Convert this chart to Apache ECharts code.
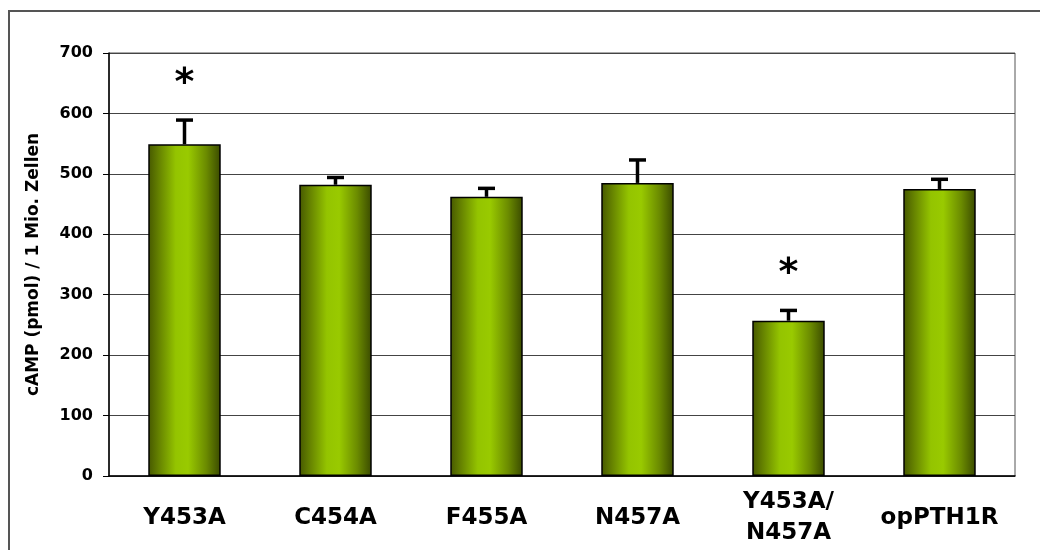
<!DOCTYPE html>
<html>
<head>
<meta charset="utf-8">
<script src="https://cdn.jsdelivr.net/npm/echarts@6/dist/echarts.min.js"></script>
<style>
  html, body { margin: 0; padding: 0; background: #fff; }
  #chart { width: 1040px; height: 550px; }
</style>
</head>
<body>
<div id="chart"></div>
<script>
// cAMP accumulation per receptor variant (mean and upper error)
const categories = ['Y453A', 'C454A', 'F455A', 'N457A', 'Y453A/\nN457A', 'opPTH1R'];
const means = [549, 482, 462, 485, 257, 475];
const errors = [40, 12, 14, 38, 17, 16];
const significance = ['*', '', '', '', '*', ''];
const yTicks = [0, 100, 200, 300, 400, 500, 600, 700];

const FONT = 'DejaVu Sans';

const chart = echarts.init(document.getElementById('chart'));

const barGradient = new echarts.graphic.LinearGradient(0, 0, 1, 0, [
  { offset: 0.00, color: '#465800' },
  { offset: 0.15, color: '#668300' },
  { offset: 0.38, color: '#94c400' },
  { offset: 0.55, color: '#99ca00' },
  { offset: 0.80, color: '#6b8b00' },
  { offset: 1.00, color: '#3a4a00' }
]);

chart.setOption({
  animation: false,
  backgroundColor: '#fff',
  graphic: [{
    type: 'rect',
    shape: { x: 9, y: 11, width: 1100, height: 600 },
    style: { fill: 'none', stroke: '#555', lineWidth: 2 },
    silent: true
  }],
  grid: {
    left: 109, right: 25, top: 53, bottom: 74,
    show: true, borderColor: '#555', borderWidth: 1
  },
  xAxis: {
    type: 'category',
    data: categories,
    axisLine: { lineStyle: { color: '#000', width: 1.5 } },
    axisTick: { show: false },
    axisLabel: {
      interval: 0,
      margin: 42,
      verticalAlign: 'middle',
      fontFamily: FONT, fontWeight: 'bold', fontSize: 23, color: '#000',
      lineHeight: 31
    }
  },
  yAxis: {
    type: 'value',
    min: yTicks[0], max: yTicks[yTicks.length - 1], interval: 100,
    name: 'cAMP (pmol) / 1 Mio. Zellen',
    nameLocation: 'middle',
    nameGap: 67,
    nameTextStyle: { fontFamily: FONT, fontWeight: 'bold', fontSize: 17, color: '#000' },
    axisLine: { show: true, lineStyle: { color: '#000', width: 1.5 } },
    axisTick: { show: true, length: 6, lineStyle: { color: '#000' } },
    axisLabel: {
      margin: 16,
      fontFamily: FONT, fontWeight: 'bold', fontSize: 16, color: '#000'
    },
    splitLine: { show: true, lineStyle: { color: '#444', width: 1 } }
  },
  series: [
    {
      type: 'bar',
      data: means,
      barCategoryGap: '52%',
      itemStyle: { color: barGradient, borderColor: '#000', borderWidth: 1.5 },
      z: 2
    },
    {
      type: 'custom',
      z: 3,
      data: means.map((m, i) => [i, m, m + errors[i], significance[i]]),
      renderItem: function (params, api) {
        const i = api.value(0);
        const base = api.coord([i, api.value(1)]);
        const top = api.coord([i, api.value(2)]);
        const capHalf = 8.5;
        const children = [
          { type: 'line', shape: { x1: base[0], y1: base[1], x2: top[0], y2: top[1] },
            style: { stroke: '#000', lineWidth: 3.5 } },
          { type: 'line', shape: { x1: top[0] - capHalf, y1: top[1], x2: top[0] + capHalf, y2: top[1] },
            style: { stroke: '#000', lineWidth: 3.5 } }
        ];
        const sig = significance[i];
        if (sig) {
          children.push({
            type: 'text',
            style: {
              text: sig, x: top[0], y: top[1] - 36,
              fill: '#000', font: 'bold 38px ' + FONT,
              textAlign: 'center', textVerticalAlign: 'middle'
            }
          });
        }
        return { type: 'group', children: children };
      }
    }
  ]
});
</script>
</body>
</html>
